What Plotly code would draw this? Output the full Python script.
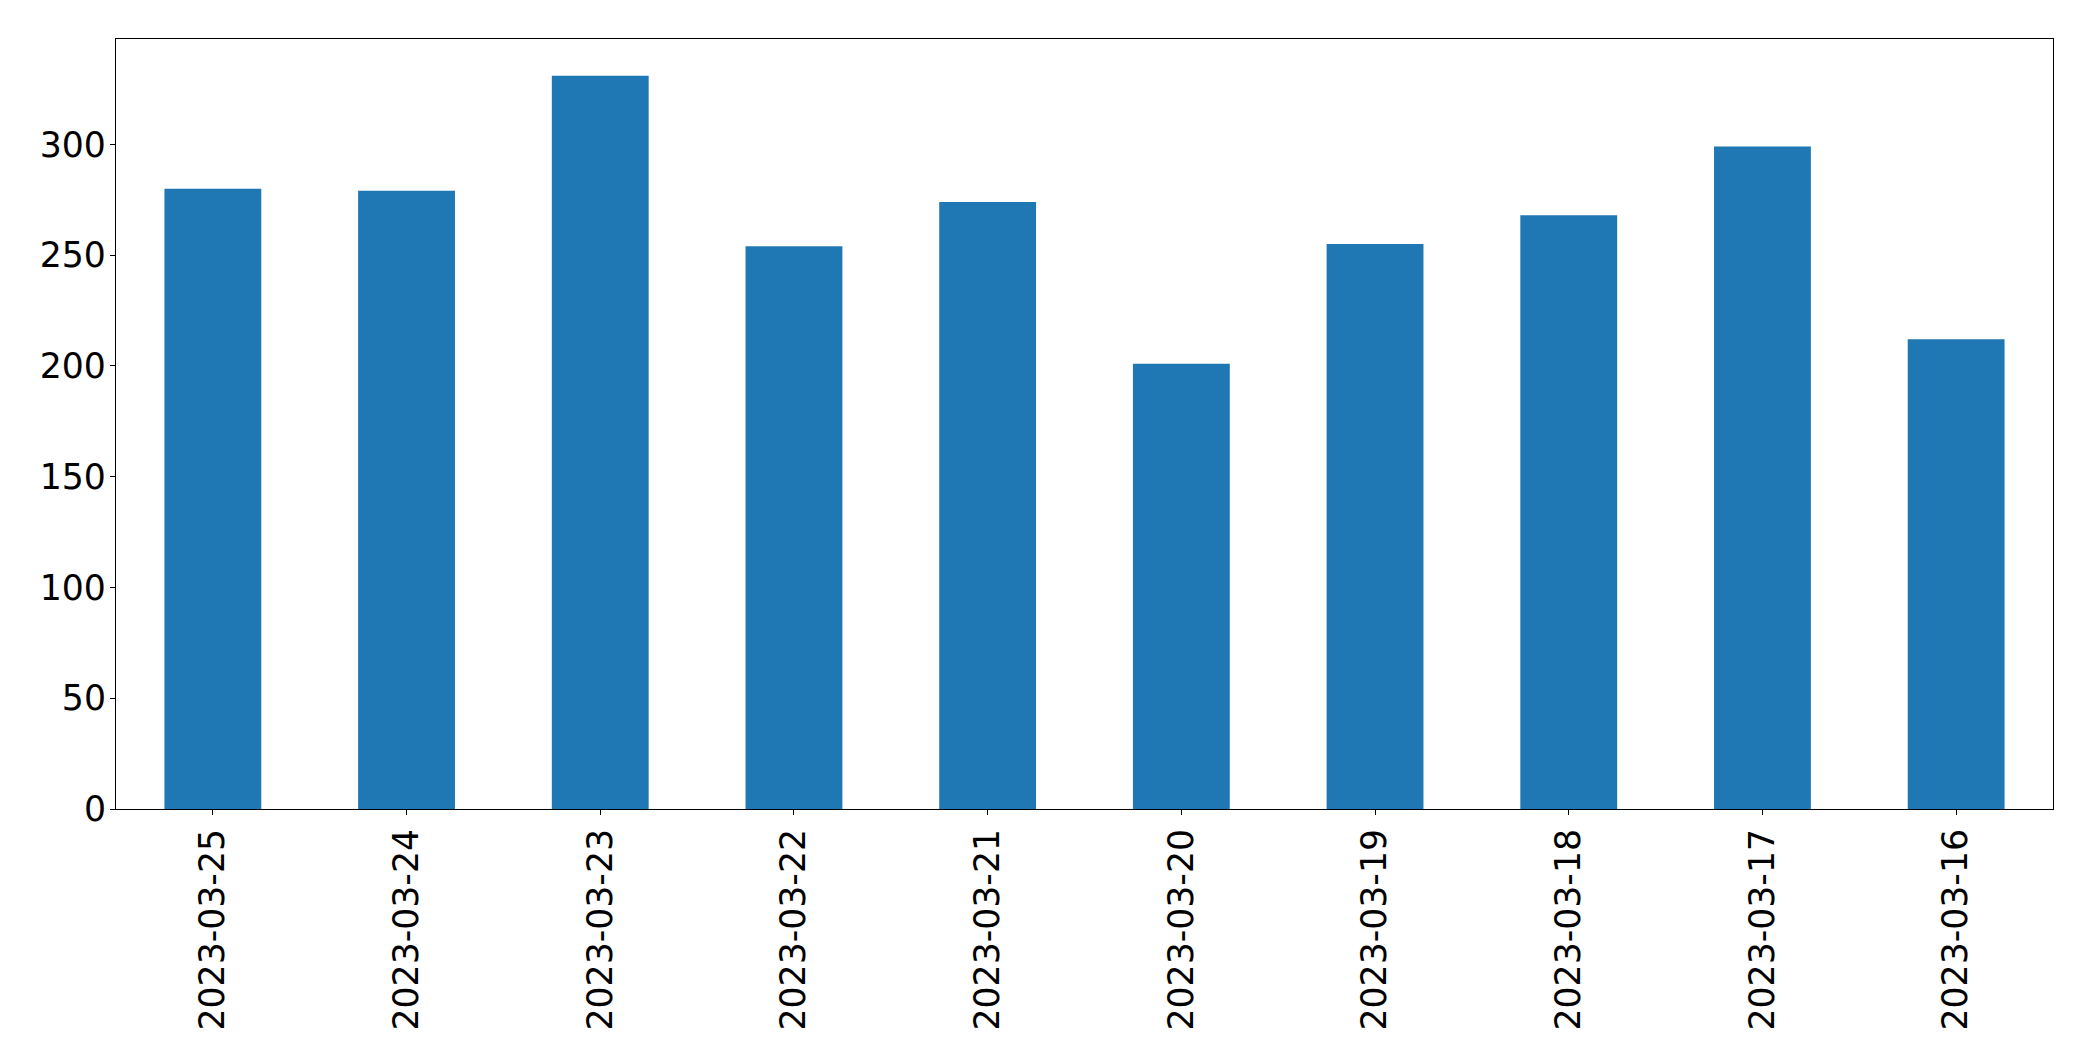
import plotly.graph_objects as go

dates = ["2023-03-25", "2023-03-24", "2023-03-23", "2023-03-22", "2023-03-21",
         "2023-03-20", "2023-03-19", "2023-03-18", "2023-03-17", "2023-03-16"]
counts = [280, 279, 331, 254, 274, 201, 255, 268, 299, 212]
y_ticks = [0, 50, 100, 150, 200, 250, 300]

fig = go.Figure(go.Bar(
    x=dates, y=counts, width=0.5,
    marker=dict(color="#1f77b4", line=dict(width=0)),
))

font = dict(family="DejaVu Sans", size=34.7, color="black")

fig.update_layout(
    width=2093, height=1061,
    margin=dict(l=116, r=40, t=39, b=252, autoexpand=False),
    paper_bgcolor="white", plot_bgcolor="white",
    showlegend=False,
    font=font,
)
fig.update_xaxes(
    type="category", range=[-0.5, len(dates) - 0.5],
    tickangle=-90, tickfont=font, automargin=False,
    showline=True, linecolor="black", linewidth=1.2, mirror=True,
    ticks="outside", ticklen=5, tickwidth=1.2, tickcolor="black",
    showgrid=False, zeroline=False,
)
fig.update_yaxes(
    range=[0, max(counts) * 1.05],
    tickvals=y_ticks, tickfont=font, automargin=False,
    showline=True, linecolor="black", linewidth=1.2, mirror=True,
    ticks="outside", ticklen=5, tickwidth=1.2, tickcolor="black",
    ticklabelstandoff=-3,
    showgrid=False, zeroline=False,
)

fig.write_html(
    "out.html",
    config={"displayModeBar": False},
    post_script="document.body.style.margin='0';document.body.style.overflow='hidden';",
)
